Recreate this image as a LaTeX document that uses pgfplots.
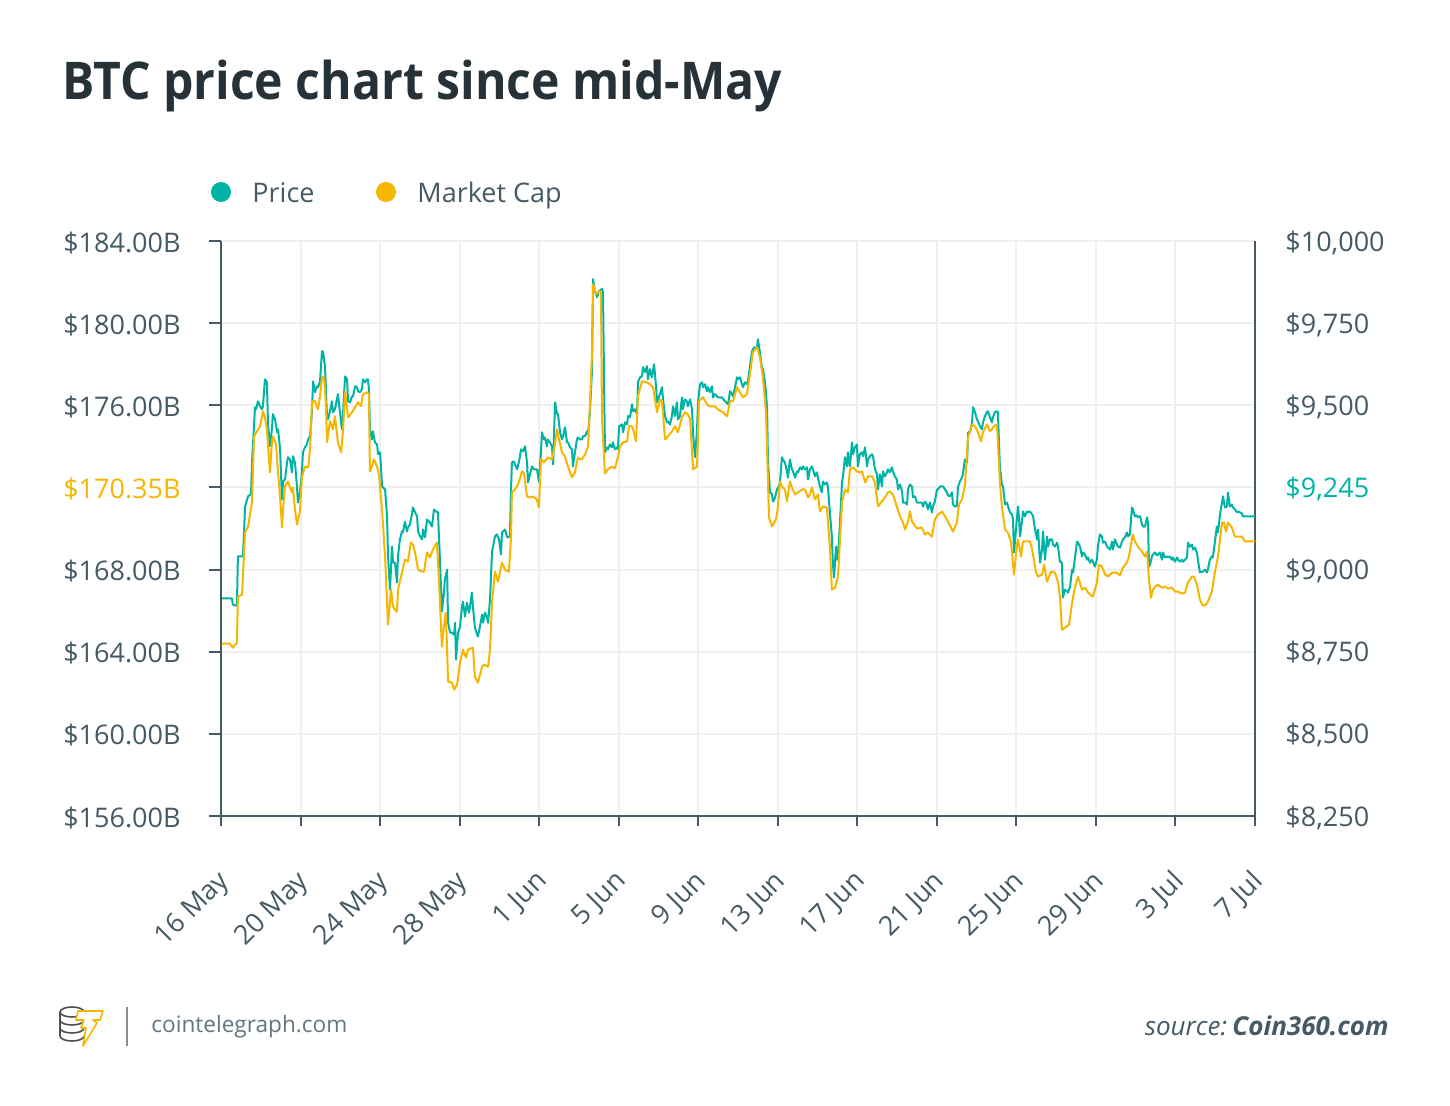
\documentclass[border=0pt]{standalone}
\usepackage{fontspec}
\setmainfont{Open Sans}
\newfontfamily\titlefont[FakeStretch=0.925]{Open Sans}
\usepackage{pgfplots}
\pgfplotsset{compat=1.18}
\definecolor{pricec}{RGB}{0,179,167}
\definecolor{capc}{RGB}{246,182,0}
\definecolor{axisc}{RGB}{69,90,100}
\definecolor{titlec}{RGB}{38,50,56}
\definecolor{gridc}{RGB}{240,240,240}
\definecolor{footc}{RGB}{96,118,128}
\newcommand{\tl}{\fontsize{13.5}{16}\selectfont}
\begin{document}
\begin{tikzpicture}
\path[use as bounding box] (0,0) rectangle (725pt,-553pt);
% price axis (first, with grid)
\begin{axis}[
  at={(110.5pt,-408pt)}, anchor=south west, scale only axis,
  width=517pt, height=287.5pt,
  xmin=0, xmax=52, ymin=8250, ymax=10000,
  axis x line*=bottom, axis y line*=right,
  axis line style={draw=axisc, line width=1pt, -},
  scaled y ticks=false,
  xtick={0,4,...,52},
  xticklabels={16 May,20 May,24 May,28 May,1 Jun,5 Jun,9 Jun,13 Jun,17 Jun,21 Jun,25 Jun,29 Jun,3 Jul,7 Jul},
  ytick={8250,8500,8750,9000,9250,9500,9750,10000},
  yticklabels={{\$8,250},{\$8,500},{\$8,750},{\$9,000},{\textcolor{pricec}{\$9,245}},{\$9,500},{\$9,750},{\$10,000}},
  grid=major, major grid style={draw=gridc, line width=1pt},
  tick align=outside,
  xtick style={draw=axisc, line width=1pt}, major tick length=5pt,
  ytick style={draw=none},
  xticklabel style={font=\tl, text=axisc, xshift=-2.5pt, yshift=-21pt, rotate=45, anchor=north east, inner sep=0pt},
  yticklabel style={font=\tl, text=axisc, anchor=west, inner sep=0pt, xshift=10pt, yshift=-0.8pt},
]
\addplot[pricec, line width=1pt, line join=round] coordinates {
(0.05,8912)(0.55,8912)(0.60,8893)(0.80,8890)(0.85,9040)(1.06,9040)(1.11,9046)(1.21,9192)(1.36,9223)(1.51,9229)(1.56,9326)(1.71,9494)(1.76,9488)(1.86,9512)(1.96,9497)(2.06,9488)(2.11,9497)(2.21,9579)(2.31,9570)(2.36,9448)(2.46,9375)(2.56,9427)(2.61,9473)(2.72,9457)(2.82,9418)(2.87,9427)(2.97,9366)(3.07,9213)(3.12,9268)(3.22,9274)(3.32,9326)(3.37,9342)(3.47,9335)(3.57,9296)(3.62,9345)(3.72,9326)(3.82,9253)(3.87,9204)(3.97,9235)(4.07,9296)(4.12,9357)(4.22,9372)(4.32,9381)(4.38,9396)(4.48,9406)(4.58,9488)(4.63,9573)(4.73,9540)(4.83,9558)(4.88,9555)(4.98,9573)(5.08,9665)(5.13,9662)(5.23,9619)(5.33,9467)(5.38,9457)(5.48,9482)(5.58,9512)(5.63,9479)(5.73,9488)(5.83,9518)(5.88,9534)(5.98,9479)(6.08,9427)(6.14,9479)(6.24,9588)(6.34,9579)(6.39,9512)(6.49,9509)(6.59,9527)(6.64,9527)(6.74,9558)(6.84,9555)(6.89,9543)(6.99,9540)(7.09,9549)(7.14,9579)(7.24,9570)(7.34,9579)(7.39,9579)(7.44,9549)(7.49,9427)(7.59,9396)(7.64,9421)(7.74,9387)(7.85,9381)(7.90,9351)(8.00,9357)(8.10,9253)(8.25,9244)(8.35,9162)(8.40,9040)(8.50,8939)(8.60,9070)(8.65,9021)(8.75,9021)(8.85,8960)(8.90,9040)(9.00,9092)(9.10,9116)(9.15,9113)(9.25,9146)(9.35,9116)(9.40,9128)(9.50,9137)(9.60,9168)(9.65,9189)(9.76,9174)(9.86,9162)(9.91,9116)(10.01,9101)(10.11,9092)(10.16,9122)(10.26,9098)(10.36,9152)(10.51,9143)(10.61,9131)(10.71,9183)(10.81,9177)(10.91,9174)(11.01,9030)(11.11,8872)(11.21,8930)(11.26,8970)(11.37,9000)(11.42,8838)(11.52,8808)(11.62,8808)(11.72,8802)(11.77,8838)(11.82,8726)(11.92,8808)(12.02,8826)(12.12,8887)(12.17,8902)(12.27,8857)(12.37,8899)(12.47,8869)(12.52,8887)(12.62,8930)(12.67,8887)(12.77,8823)(12.92,8796)(13.02,8826)(13.13,8863)(13.18,8838)(13.28,8869)(13.38,8854)(13.43,8838)(13.53,8909)(13.63,9055)(13.68,9070)(13.78,9101)(13.88,9107)(13.98,9092)(14.08,9046)(14.13,9113)(14.28,9122)(14.38,9101)(14.43,9098)(14.53,9101)(14.58,9235)(14.63,9326)(14.73,9329)(14.89,9305)(14.99,9329)(15.09,9366)(15.19,9360)(15.29,9375)(15.39,9326)(15.44,9265)(15.54,9290)(15.64,9314)(15.74,9305)(15.89,9305)(15.99,9268)(16.09,9357)(16.14,9418)(16.24,9396)(16.29,9402)(16.39,9375)(16.44,9396)(16.55,9387)(16.65,9372)(16.70,9320)(16.80,9509)(16.90,9473)(16.95,9473)(17.05,9418)(17.15,9396)(17.20,9406)(17.30,9433)(17.40,9387)(17.45,9387)(17.55,9372)(17.65,9366)(17.70,9314)(17.80,9357)(17.90,9396)(17.95,9402)(18.05,9396)(18.15,9396)(18.21,9406)(18.31,9406)(18.41,9421)(18.46,9412)(18.56,9488)(18.66,9610)(18.71,9884)(18.81,9845)(18.91,9829)(19.01,9848)(19.16,9854)(19.21,9845)(19.31,9357)(19.41,9372)(19.46,9366)(19.56,9381)(19.66,9372)(19.71,9387)(19.81,9366)(19.91,9372)(19.96,9366)(20.02,9436)(20.17,9442)(20.22,9418)(20.32,9448)(20.42,9442)(20.47,9467)(20.57,9464)(20.67,9503)(20.72,9482)(20.82,9488)(20.92,9473)(20.97,9570)(21.07,9585)(21.17,9588)(21.22,9616)(21.32,9601)(21.42,9619)(21.47,9579)(21.57,9610)(21.67,9585)(21.78,9625)(21.88,9555)(21.93,9509)(22.03,9527)(22.08,9534)(22.18,9555)(22.23,9518)(22.33,9467)(22.43,9448)(22.48,9451)(22.58,9442)(22.68,9467)(22.73,9497)(22.83,9467)(22.93,9509)(22.98,9457)(23.08,9467)(23.18,9524)(23.23,9488)(23.33,9518)(23.43,9512)(23.48,9497)(23.59,9518)(23.69,9488)(23.74,9412)(23.84,9342)(23.94,9427)(23.99,9509)(24.09,9564)(24.19,9570)(24.24,9555)(24.34,9564)(24.44,9543)(24.49,9555)(24.59,9540)(24.69,9558)(24.74,9524)(24.84,9534)(24.99,9524)(25.19,9524)(25.35,9512)(25.50,9503)(25.60,9543)(25.70,9534)(25.75,9527)(25.85,9555)(25.95,9585)(26.00,9579)(26.10,9585)(26.20,9564)(26.25,9555)(26.35,9570)(26.45,9564)(26.50,9573)(26.60,9619)(26.70,9662)(26.75,9671)(26.85,9677)(26.95,9671)(27.00,9701)(27.10,9662)(27.20,9616)(27.25,9610)(27.36,9570)(27.46,9497)(27.51,9326)(27.61,9235)(27.71,9229)(27.76,9207)(27.86,9219)(27.96,9244)(28.06,9253)(28.11,9265)(28.21,9342)(28.26,9335)(28.36,9326)(28.46,9299)(28.51,9280)(28.61,9335)(28.71,9305)(28.77,9299)(28.87,9280)(28.97,9299)(29.02,9296)(29.12,9311)(29.22,9305)(29.27,9314)(29.37,9305)(29.47,9311)(29.52,9274)(29.62,9305)(29.72,9314)(29.77,9305)(29.87,9284)(29.97,9296)(30.02,9280)(30.12,9253)(30.22,9235)(30.27,9268)(30.37,9259)(30.47,9265)(30.52,9253)(30.62,9174)(30.72,9101)(30.77,9021)(30.83,8976)(30.93,9070)(30.98,9030)(31.03,9040)(31.13,9143)(31.23,9265)(31.28,9284)(31.38,9342)(31.48,9314)(31.53,9357)(31.63,9314)(31.73,9387)(31.78,9351)(31.88,9372)(31.98,9381)(32.03,9314)(32.13,9351)(32.24,9357)(32.29,9345)(32.39,9372)(32.49,9314)(32.54,9335)(32.64,9345)(32.74,9351)(32.79,9345)(32.89,9305)(32.99,9290)(33.04,9244)(33.14,9290)(33.24,9253)(33.29,9299)(33.39,9284)(33.49,9296)(33.54,9305)(33.64,9296)(33.74,9311)(33.79,9299)(33.89,9284)(33.99,9274)(34.05,9244)(34.15,9259)(34.25,9238)(34.30,9204)(34.40,9204)(34.50,9198)(34.55,9244)(34.65,9259)(34.75,9253)(34.80,9220)(34.90,9223)(35.00,9204)(35.15,9204)(35.25,9204)(35.30,9192)(35.40,9207)(35.50,9198)(35.55,9183)(35.65,9204)(35.75,9174)(35.80,9192)(35.90,9207)(36.01,9244)(36.06,9244)(36.16,9253)(36.26,9253)(36.31,9253)(36.41,9244)(36.51,9235)(36.56,9226)(36.66,9223)(36.76,9235)(36.81,9198)(36.91,9192)(37.01,9192)(37.06,9250)(37.16,9268)(37.26,9280)(37.31,9290)(37.41,9335)(37.52,9326)(37.57,9418)(37.67,9418)(37.77,9448)(37.82,9494)(37.92,9479)(38.02,9457)(38.07,9451)(38.17,9436)(38.27,9427)(38.32,9448)(38.42,9467)(38.52,9479)(38.57,9482)(38.67,9463)(38.77,9448)(38.82,9463)(38.92,9479)(39.02,9482)(39.07,9479)(39.17,9314)(39.27,9259)(39.33,9253)(39.43,9198)(39.53,9204)(39.58,9192)(39.68,9174)(39.78,9168)(39.83,9152)(39.88,9052)(39.98,9122)(40.08,9192)(40.13,9162)(40.18,9101)(40.28,9146)(40.33,9177)(40.43,9162)(40.53,9177)(40.58,9174)(40.68,9177)(40.79,9168)(40.84,9162)(40.94,9122)(41.04,9092)(41.09,9122)(41.19,9021)(41.29,9061)(41.34,9116)(41.44,9030)(41.54,9101)(41.59,9070)(41.69,9092)(41.79,9092)(41.84,9076)(41.94,9070)(42.04,9082)(42.09,9070)(42.19,9024)(42.29,9021)(42.34,8915)(42.44,8939)(42.55,8933)(42.60,8930)(42.70,8948)(42.80,9000)(42.85,8991)(42.95,9037)(43.05,9085)(43.10,9082)(43.20,9070)(43.30,9040)(43.35,9052)(43.45,9046)(43.55,9030)(43.60,9037)(43.70,9021)(43.80,9030)(43.85,9024)(43.95,9009)(44.05,9030)(44.10,9070)(44.20,9107)(44.30,9101)(44.35,9082)(44.46,9085)(44.56,9070)(44.61,9067)(44.71,9061)(44.81,9085)(44.86,9061)(44.96,9092)(45.06,9076)(45.11,9070)(45.21,9067)(45.31,9085)(45.36,9092)(45.46,9098)(45.56,9113)(45.61,9101)(45.71,9107)(45.81,9189)(45.86,9183)(45.96,9162)(46.06,9165)(46.11,9159)(46.22,9162)(46.32,9137)(46.37,9131)(46.47,9131)(46.57,9159)(46.62,9143)(46.67,9009)(46.72,9015)(46.82,9040)(46.87,9046)(46.97,9052)(47.07,9043)(47.12,9046)(47.22,9052)(47.32,9030)(47.37,9052)(47.47,9037)(47.57,9040)(47.62,9037)(47.72,9040)(47.82,9030)(47.87,9037)(47.98,9024)(48.08,9037)(48.13,9030)(48.23,9024)(48.33,9030)(48.38,9024)(48.48,9030)(48.58,9037)(48.63,9082)(48.73,9070)(48.83,9076)(48.88,9061)(48.98,9067)(49.08,9052)(49.13,9030)(49.23,8991)(49.33,8994)(49.38,8994)(49.48,9000)(49.58,8991)(49.63,9000)(49.73,9030)(49.83,9040)(49.88,9037)(49.98,9082)(50.08,9131)(50.14,9113)(50.24,9168)(50.34,9204)(50.39,9223)(50.49,9189)(50.59,9192)(50.64,9235)(50.74,9192)(50.84,9198)(50.89,9189)(50.99,9183)(51.09,9174)(51.14,9177)(51.24,9174)(51.34,9171)(51.39,9162)(52.00,9162)
};
\end{axis}
% market cap axis (second, on top)
\begin{axis}[
  at={(110.5pt,-408pt)}, anchor=south west, scale only axis,
  width=517pt, height=287.5pt,
  xmin=0, xmax=52, ymin=156, ymax=184,
  axis x line=none, axis y line*=left,
  axis line style={draw=axisc, line width=1pt, -},
  ytick={156,160,164,168,172,176,180,184},
  yticklabels={{\$156.00B},{\$160.00B},{\$164.00B},{\$168.00B},{\textcolor{capc}{\$170.35B}},{\$176.00B},{\$180.00B},{\$184.00B}},
  tick align=outside, major tick length=6pt,
  ytick style={draw=axisc, line width=1pt},
  yticklabel style={font=\tl, text=axisc, anchor=east, inner sep=0pt, xshift=-14pt, yshift=-0.8pt},
]
\addplot[capc, line width=1pt, line join=round] coordinates {
(0.05,164.39)(0.45,164.39)(0.60,164.20)(0.80,164.44)(0.85,166.68)(1.06,166.78)(1.21,169.80)(1.36,170.10)(1.56,171.27)(1.66,174.49)(1.81,174.73)(1.96,174.98)(2.11,175.71)(2.21,175.41)(2.31,174.83)(2.46,172.73)(2.56,174.20)(2.61,174.49)(2.77,174.10)(2.87,172.73)(2.97,171.56)(3.07,170.05)(3.12,170.93)(3.22,172.05)(3.37,172.29)(3.47,172.00)(3.57,171.76)(3.62,172.00)(3.72,170.93)(3.82,170.20)(3.97,170.83)(4.07,172.49)(4.22,173.02)(4.38,172.98)(4.48,173.85)(4.58,176.20)(4.73,176.20)(4.88,175.80)(4.98,176.44)(5.08,177.37)(5.18,177.37)(5.28,176.05)(5.33,174.20)(5.48,175.22)(5.63,174.83)(5.73,175.46)(5.88,174.20)(6.04,173.71)(6.14,174.83)(6.24,176.68)(6.39,175.41)(6.59,175.66)(6.74,175.90)(6.89,176.15)(7.04,175.95)(7.14,176.54)(7.34,176.63)(7.44,176.54)(7.49,172.78)(7.59,173.02)(7.69,173.37)(7.85,173.02)(7.95,172.54)(8.10,170.93)(8.25,168.63)(8.40,165.32)(8.55,167.02)(8.65,166.20)(8.75,166.05)(8.85,165.95)(8.90,167.02)(9.10,167.85)(9.25,168.49)(9.40,168.39)(9.55,169.32)(9.65,169.22)(9.76,168.83)(9.91,168.00)(10.11,167.90)(10.21,167.90)(10.36,168.83)(10.51,168.59)(10.66,168.98)(10.86,169.32)(10.96,167.51)(11.11,164.24)(11.21,165.22)(11.31,165.90)(11.42,162.54)(11.62,162.49)(11.72,162.15)(11.87,162.39)(12.02,163.46)(12.17,164.10)(12.32,163.71)(12.42,164.10)(12.67,164.20)(12.77,162.78)(12.92,162.49)(13.13,163.27)(13.23,163.37)(13.43,163.27)(13.53,164.10)(13.63,166.39)(13.78,167.90)(13.93,167.41)(14.13,168.34)(14.28,168.00)(14.48,167.90)(14.58,169.46)(14.63,171.76)(14.78,171.90)(14.94,172.15)(15.14,172.78)(15.24,172.68)(15.39,171.56)(15.54,171.51)(15.69,171.56)(15.89,171.41)(15.99,171.02)(16.09,173.37)(16.24,173.22)(16.44,173.46)(16.65,173.37)(16.75,173.85)(16.90,174.83)(17.00,174.34)(17.15,173.71)(17.30,173.51)(17.45,173.02)(17.65,172.49)(17.80,172.73)(17.95,173.46)(18.05,173.37)(18.15,173.37)(18.31,173.61)(18.46,174.00)(18.56,176.15)(18.66,178.59)(18.71,181.90)(18.86,181.41)(19.01,181.56)(19.11,181.51)(19.16,175.32)(19.31,172.68)(19.46,172.88)(19.66,173.02)(19.81,172.93)(19.96,173.46)(20.07,174.00)(20.22,174.20)(20.42,174.24)(20.52,174.98)(20.67,174.98)(20.77,174.68)(20.87,174.24)(20.97,176.44)(21.17,177.17)(21.42,177.12)(21.57,177.02)(21.73,176.88)(21.93,175.66)(22.08,176.29)(22.18,176.20)(22.33,174.34)(22.48,174.49)(22.68,174.73)(22.83,174.98)(22.98,174.68)(23.18,175.41)(23.33,175.66)(23.48,175.56)(23.59,175.32)(23.74,172.88)(23.94,173.02)(24.04,176.20)(24.24,176.39)(24.44,176.05)(24.59,175.95)(24.84,175.95)(24.99,175.80)(25.24,175.66)(25.45,175.46)(25.60,176.20)(25.75,176.20)(25.95,176.88)(26.10,176.63)(26.25,176.39)(26.45,176.54)(26.60,177.51)(26.75,178.59)(26.95,178.83)(27.10,178.34)(27.25,177.41)(27.41,175.66)(27.51,172.24)(27.56,170.54)(27.71,170.10)(27.91,170.44)(28.01,171.07)(28.11,172.29)(28.21,172.05)(28.36,171.90)(28.46,171.32)(28.61,172.29)(28.71,172.00)(28.87,171.66)(29.02,171.76)(29.22,171.90)(29.37,171.90)(29.52,171.51)(29.62,171.66)(29.72,172.00)(29.87,171.41)(30.02,171.66)(30.12,170.83)(30.27,171.07)(30.47,171.02)(30.62,169.12)(30.72,167.02)(30.88,167.12)(31.03,167.66)(31.13,169.46)(31.23,171.27)(31.38,171.90)(31.53,171.76)(31.63,172.88)(31.78,172.98)(31.98,172.78)(32.13,172.73)(32.24,172.78)(32.39,172.24)(32.54,172.54)(32.74,172.54)(32.89,172.24)(33.04,171.07)(33.24,171.32)(33.39,171.51)(33.54,171.76)(33.64,171.80)(33.79,171.66)(33.99,171.07)(34.15,170.59)(34.30,170.29)(34.40,169.95)(34.55,170.34)(34.65,170.83)(34.75,170.34)(35.00,170.00)(35.25,170.05)(35.40,169.71)(35.55,169.80)(35.75,169.61)(35.90,170.44)(36.06,170.68)(36.26,170.83)(36.41,170.59)(36.56,170.34)(36.81,169.85)(37.01,170.29)(37.11,171.17)(37.26,171.41)(37.41,172.05)(37.57,174.44)(37.77,175.07)(37.92,174.98)(38.07,174.68)(38.22,174.24)(38.32,174.68)(38.52,175.07)(38.67,174.73)(38.77,174.83)(38.87,174.98)(39.02,175.07)(39.07,174.20)(39.17,172.29)(39.27,171.07)(39.43,169.95)(39.58,169.80)(39.73,169.32)(39.88,167.76)(40.03,169.22)(40.08,169.46)(40.23,168.63)(40.33,169.37)(40.53,169.37)(40.68,169.37)(40.79,168.98)(40.99,167.85)(41.09,167.66)(41.29,167.76)(41.39,168.24)(41.54,167.41)(41.74,167.90)(41.94,167.85)(42.09,167.41)(42.19,166.68)(42.29,165.07)(42.44,165.17)(42.65,165.32)(42.80,166.39)(42.95,167.17)(43.10,167.66)(43.30,167.02)(43.45,167.12)(43.60,166.88)(43.85,166.68)(44.05,167.37)(44.15,168.24)(44.30,168.15)(44.46,167.76)(44.61,167.66)(44.81,167.85)(45.06,167.85)(45.21,167.71)(45.36,168.10)(45.56,168.34)(45.66,168.63)(45.76,169.22)(45.86,169.71)(45.96,169.37)(46.11,169.12)(46.32,168.88)(46.47,168.63)(46.57,168.88)(46.67,167.51)(46.77,166.63)(46.87,167.02)(46.97,167.17)(47.12,167.27)(47.32,167.12)(47.47,167.17)(47.62,167.07)(47.82,167.12)(47.98,166.93)(48.13,166.93)(48.33,166.83)(48.48,166.88)(48.63,167.37)(48.83,167.66)(48.93,167.66)(49.08,167.27)(49.23,166.54)(49.38,166.24)(49.53,166.29)(49.63,166.44)(49.83,166.93)(49.98,167.85)(50.14,168.63)(50.34,170.29)(50.44,170.29)(50.54,169.85)(50.64,170.29)(50.84,170.05)(50.99,169.61)(51.34,169.61)(51.49,169.37)(52.00,169.37)
};
\end{axis}
\begin{scope}[x=0.5pt,y=-0.5pt]
% title
\node[anchor=base west, inner sep=0pt, text=titlec, font=\titlefont\fontsize{26}{30}\selectfont\bfseries] at (62,100) {BTC price chart since mid-May};
% legend
\fill[pricec] (221,192) circle (10);
\node[anchor=base west, inner sep=0pt, text=axisc, font=\tl] at (252,203) {Price};
\fill[capc] (386,192) circle (10);
\node[anchor=base west, inner sep=0pt, text=axisc, font=\tl] at (417,203) {Market Cap};
% footer logo: coin stack
\begin{scope}[draw=titlec!85, line width=0.8pt]
\draw (72,1012) ellipse (12 and 5);
\draw (60,1012) -- (60,1036);
\draw (84,1012) -- (84,1020);
\draw (60,1020) arc[start angle=180, end angle=0, x radius=12, y radius=5];
\draw (60,1028) arc[start angle=180, end angle=0, x radius=12, y radius=5];
\draw (60,1036) arc[start angle=180, end angle=0, x radius=12, y radius=5];
\end{scope}
\filldraw[fill=white, draw=capc, line width=0.8pt, line join=round]
  (78,1011) -- (103,1011) -- (100,1020) -- (93,1020) -- (97,1023) -- (83,1046) -- (86,1028) -- (81,1028) -- (84,1020) -- (76,1020) -- cycle;
\draw[color=gray!90, line width=1pt] (127,1007) -- (127,1046);
\node[anchor=base west, inner sep=0pt, text=footc, font=\fontsize{11.3}{14}\selectfont] at (151,1032) {cointelegraph.com};
\node[anchor=base east, inner sep=0pt, text=axisc, font=\fontsize{13}{16}\selectfont] at (1389,1035) {\textit{source:}\hspace{0.2em}\textbf{\textit{Coin360.com}}};
\end{scope}
\end{tikzpicture}
\end{document}
